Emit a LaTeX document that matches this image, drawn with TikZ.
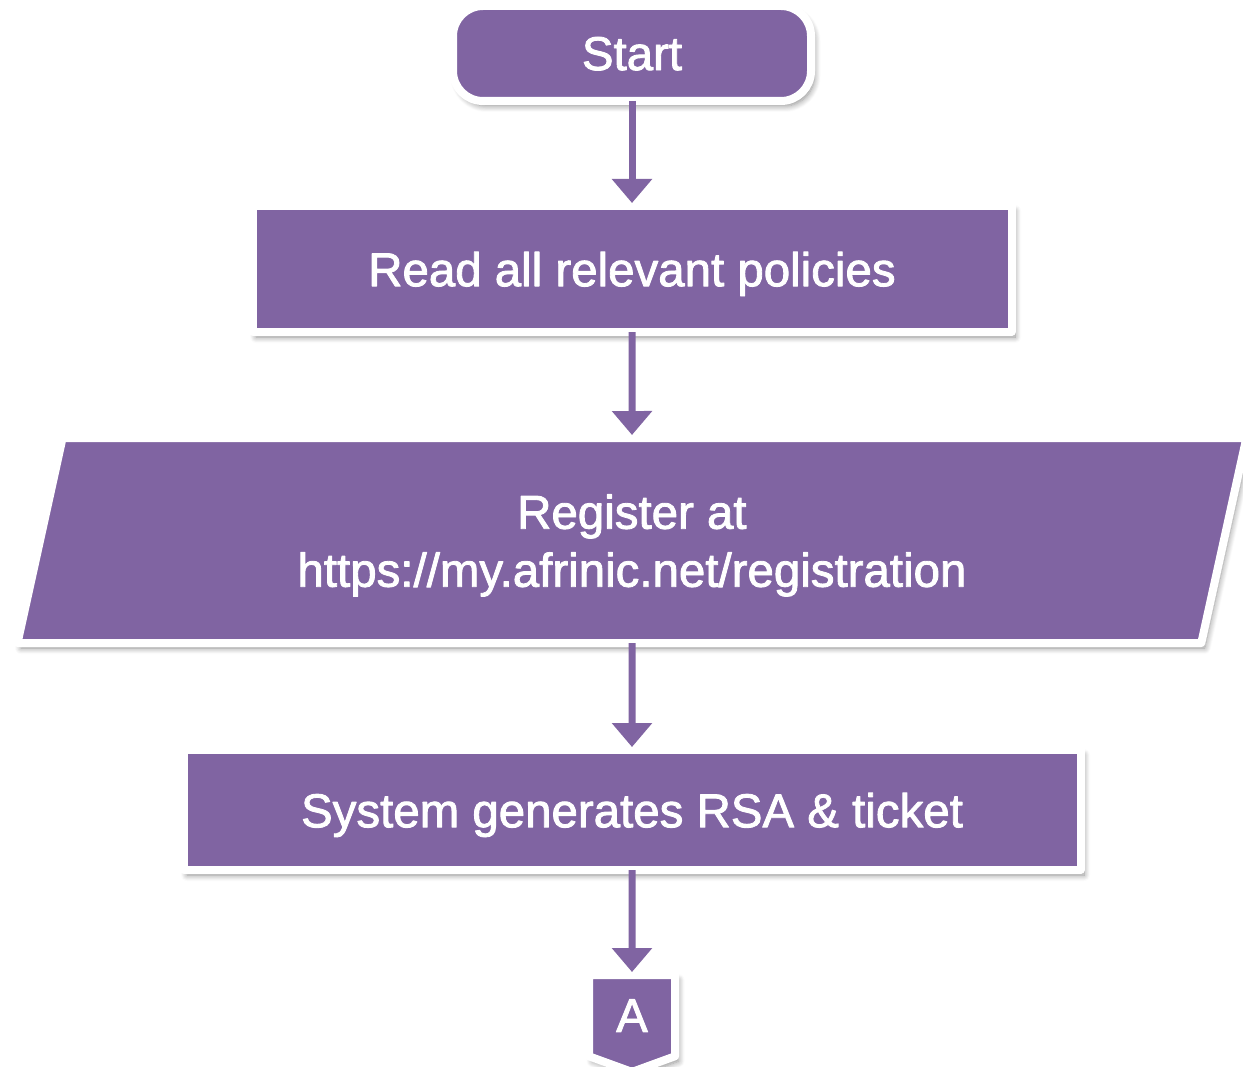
\documentclass[tikz,border=0pt]{standalone}
\usepackage{fontspec}
\setmainfont{Liberation Sans}
\newfontfamily\flowfont[FakeBold=1.8]{Liberation Sans}
\usepackage{tikz}
\usetikzlibrary{
  arrows.meta, positioning, shapes.geometric, shapes.symbols,
  shadows.blur
}
\usepackage{xcolor}
\definecolor{flowpurple}{HTML}{8064A2}

\begin{document}
\begin{tikzpicture}[
    flowbox/.style={fill=flowpurple, draw=white, line width=0.16cm, line join=round,
      text=white, font=\flowfont\fontsize{27}{33}\selectfont, align=center,
      inner sep=0pt, outer sep=0pt, text depth=0pt,
      blur shadow={shadow xshift=0.07cm, shadow yshift=-0.1cm, shadow blur steps=8,
        shadow blur radius=0.12cm, shadow opacity=45}},
    flowarrow/.style={draw=flowpurple, line width=0.14cm,
      -{Triangle[width=0.78cm, length=0.48cm]}, shorten >=0.06cm}
  ]
    \useasboundingbox (0,0) rectangle (24.86,-21.34);

    \node[flowbox, rounded corners=0.6cm, minimum width=7.16cm, minimum height=1.9cm]
      (start) at (12.64,-1.07) {Start};
    \node[flowbox, minimum width=15.18cm, minimum height=2.52cm,
          below=2.1cm of start] (policies) {Read all relevant policies};
    \node[flowbox, trapezium, trapezium left angle=74, trapezium right angle=106,
          trapezium stretches=true, minimum width=24.66cm, minimum height=4.1cm,
          below=2.12cm of policies] (register)
      {Register at\\https://my.afrinic.net/registration};
    \node[flowbox, minimum width=17.94cm, minimum height=2.4cm,
          below=2.14cm of register] (rsa) {System generates RSA \& ticket};
    % off-page connector
    \node[flowbox, signal, signal to=south, signal pointer angle=140,
          minimum width=1.72cm, minimum height=1.74cm,
          below=2.1cm of rsa] (conn) {A};

    \draw[flowarrow] (start) -- (policies);
    \draw[flowarrow] (policies) -- (register);
    \draw[flowarrow] (register) -- (rsa);
    \draw[flowarrow] (rsa) -- (conn);
  \end{tikzpicture}
\end{document}
